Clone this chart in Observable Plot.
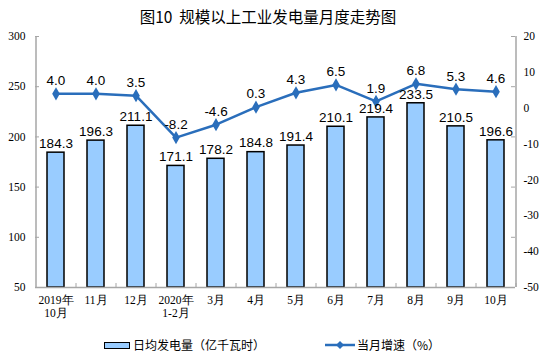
<!DOCTYPE html>
<html><head><meta charset="utf-8">
<script src="https://cdn.jsdelivr.net/npm/d3@7"></script>
<script src="https://cdn.jsdelivr.net/npm/@observablehq/plot@0.6"></script>
<style>
body{margin:0;background:#fff;}
#wrap{position:relative;width:552px;height:352px;font-family:"Noto Sans CJK SC",sans-serif;overflow:hidden;}
#title{position:absolute;left:0;width:536px;top:5px;text-align:center;font-size:15.5px;color:#000;}
.leg{position:absolute;top:338px;height:14px;line-height:14px;font-size:12px;color:#000;display:flex;align-items:center;white-space:nowrap;}
</style></head>
<body><div id="wrap"><div id="chart"></div>
<div id="title">图10&nbsp;&nbsp;规模以上工业发电量月度走势图</div>
<div class="leg" style="left:104px"><span style="display:inline-block;width:24px;height:5px;background:#99ccff;border:1.5px solid #000;margin-right:3px"></span>日均发电量（亿千瓦时）</div>
<div class="leg" style="left:325px"><svg width="30" height="10" style="margin-right:2px"><line x1="0" y1="5" x2="30" y2="5" stroke="#2a6ebb" stroke-width="2.5"/><path d="M15,1L19,5L15,9L11,5Z" fill="#2a6ebb"/></svg>当月增速（%）</div>
</div>
<script>
const months = ["2019年\n10月","11月","12月","2020年\n1-2月","3月","4月","5月","6月","7月","8月","9月","10月"];
const output = [184.3,196.3,211.1,171.1,178.2,184.8,191.4,210.1,219.4,233.5,210.5,196.6];
const growth = [4.0,4.0,3.5,-8.2,-4.6,0.3,4.3,6.5,1.9,6.8,5.3,4.6];
const leftTicks = [50,100,150,200,250,300];
const rightTicks = [-50,-40,-30,-20,-10,0,10,20];

const toLeft = v => 50 + (v + 50) * 250 / 70;
const data = months.map((m,i)=>({m, v: output[i], g: growth[i], gy: toLeft(growth[i])}));
const axisColor = "#a6a6a6";
const blue = "#2a6ebb";
const serif = "'Liberation Serif','Times New Roman',serif";
const sans = "'Liberation Sans',Arial,sans-serif";

const chart = Plot.plot({
  width: 552, height: 330,
  marginTop: 36, marginBottom: 43, marginLeft: 35, marginRight: 37,
  style: {fontFamily: serif, fontSize: "11.5px", color: "#000", background: "#fff"},
  x: {domain: months, paddingInner: 0.575, paddingOuter: 0.2875, label: null},
  y: {domain: [50, 300], label: null},
  marks: [
    Plot.barY(data, {x: "m", y1: () => 50, y2: "v", fill: "#99ccff", stroke: "#000", strokeWidth: 1.5}),
    // axis lines
    Plot.tickX([months[0]], {x: d => d, dx: -20, stroke: axisColor, strokeWidth: 1.5}),
    Plot.tickX([months[months.length-1]], {x: d => d, dx: 20, stroke: axisColor, strokeWidth: 1.5}),
    Plot.ruleY([50], {stroke: axisColor, strokeWidth: 1.5}),
    // inward ticks
    Plot.tickX(months, {x: d => d, dx: 20, insetTop: 247, stroke: axisColor}),
    Plot.tickY(leftTicks, {y: d => d, insetRight: 476, stroke: axisColor}),
    Plot.tickY(leftTicks, {y: d => d, insetLeft: 476, stroke: axisColor}),
    Plot.axisY({ticks: leftTicks, tickSize: 0, tickPadding: 10, fontFamily: serif, label: null}),
    Plot.axisY({anchor: "right", ticks: rightTicks.map(toLeft), tickSize: 0, tickPadding: 8, label: null,
      tickFormat: d => String(Math.round((d - 50) * 70 / 250 - 50)), fontFamily: serif}),
    Plot.axisX({tickSize: 0, tickPadding: 7, fontFamily: serif, lineHeight: 1.15, label: null}),
    // line
    Plot.line(data, {x: "m", y: "gy", stroke: blue, strokeWidth: 2.5}),
    Plot.dot(data, {x: "m", y: "gy", symbol: "diamond", r: 4, fill: blue}),
    // labels
    Plot.text(data, {x: "m", y: "v", text: d => d.v.toFixed(1), lineAnchor: "middle", dy: -9, fontSize: 13.5, fontFamily: sans, fill: "#000"}),
    Plot.text(data, {x: "m", y: "gy", text: d => d.g.toFixed(1), lineAnchor: "middle", dy: -13, fontSize: 13.5, fontFamily: sans, fill: "#000"})
  ]
});
document.getElementById("chart").appendChild(chart);
</script></body></html>
